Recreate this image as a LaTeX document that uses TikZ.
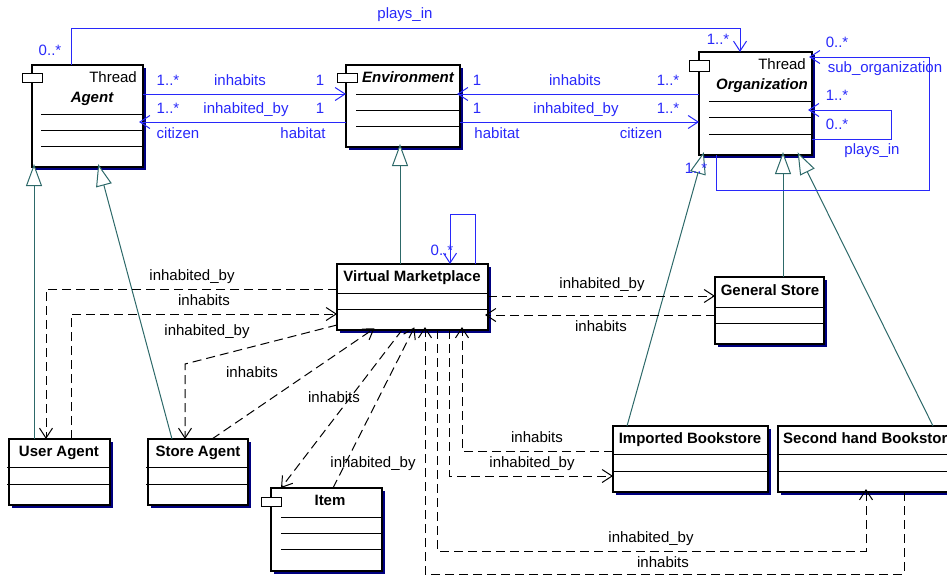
\documentclass[tikz,border=0pt]{standalone}
\usepackage{fontspec}
\setmainfont{Liberation Sans}
\usetikzlibrary{arrows.meta,shadows}

\definecolor{assocblue}{RGB}{40,40,250}
\definecolor{genteal}{RGB}{45,105,105}
\definecolor{shadownavy}{RGB}{0,0,128}

\tikzset{
  cls/.style={draw=black, fill=white, line width=1.1pt, anchor=north west,
    inner sep=0pt, outer sep=0pt,
    general shadow={fill=shadownavy, shadow xshift=3pt, shadow yshift=-3pt}},
  tabbox/.style={draw=black, fill=white, line width=1pt, anchor=north west,
    inner sep=0pt, outer sep=0pt, minimum width=20pt, minimum height=9pt},
  comp/.style={draw=black, line width=0.9pt},
  lbl/.style={anchor=base, inner sep=0pt, font=\fontsize{15}{18}\selectfont},
  alab/.style={lbl, text=assocblue},
  dlab/.style={lbl, text=black},
  ttl/.style={anchor=base, inner sep=0pt, font=\fontsize{15}{18}\selectfont\bfseries},
  ttli/.style={anchor=base, inner sep=0pt, font=\fontsize{15}{18}\selectfont\bfseries\itshape},
  stereo/.style={anchor=base east, inner sep=0pt, font=\fontsize{15}{18}\selectfont},
  assoc/.style={draw=assocblue, line width=1pt,
    -{Straight Barb[length=10pt,width=13pt,line width=1pt]}},
  assocline/.style={draw=assocblue, line width=1pt},
  depend/.style={draw=black, line width=1pt, dash pattern=on 9pt off 5pt,
    -{Straight Barb[length=10pt,width=13pt,line width=1pt]}},
  gen/.style={draw=genteal, line width=1pt, shorten >=-3pt,
    -{Triangle[length=22pt,width=16pt,fill=white,line width=1pt]}},
}

\begin{document}
\begin{tikzpicture}[x=1pt,y=-1pt]
\useasboundingbox (0,0) rectangle (947,576);
\clip (0,0) rectangle (947,576);

% ---------- classes ----------
% Agent
\node[cls, minimum width=111pt, minimum height=102pt] (agent) at (32,65) {};
\node[tabbox] (agenttab) at (22,73) {};
\node[stereo] (agentst) at (137,82) {Thread};
\node[ttli] (agentname) at (92,102) {Agent};
\draw[comp] (41,114) -- (143,114);
\draw[comp] (41,130) -- (143,130);
\draw[comp] (41,146) -- (143,146);

% Environment
\node[cls, minimum width=114pt, minimum height=82pt] (env) at (346,65) {};
\node[tabbox] (envtab) at (337,73) {};
\node[ttli] (envname) at (408,82) {Environment};
\draw[comp] (356,94) -- (460,94);
\draw[comp] (356,110) -- (460,110);
\draw[comp] (356,126) -- (460,126);

% Organization
\node[cls, minimum width=113pt, minimum height=103pt] (org) at (699,52) {};
\node[tabbox, minimum height=11pt] (orgtab) at (689,60) {};
\node[stereo] (orgst) at (806,69) {Thread};
\node[ttli] (orgname) at (762,89) {Organization};
\draw[comp] (709,101) -- (812,101);
\draw[comp] (709,117) -- (812,117);
\draw[comp] (709,134) -- (812,134);

% Virtual Marketplace
\node[cls, minimum width=151pt, minimum height=66pt] (vm) at (337,264) {};
\node[ttl] (vmname) at (412,281) {Virtual Marketplace};
\draw[comp] (337,293) -- (488,293);
\draw[comp] (337,309) -- (488,309);

% General Store
\node[cls, minimum width=109pt, minimum height=67pt] (gs) at (715,277) {};
\node[ttl] (gsname) at (770,295) {General Store};
\draw[comp] (715,307) -- (824,307);
\draw[comp] (715,323) -- (824,323);

% User Agent
\node[cls, minimum width=101pt, minimum height=66pt] (ua) at (9,439) {};
\node[ttl] (uaname) at (59,456) {User Agent};
\draw[comp] (7,467) -- (110,467);
\draw[comp] (7,484) -- (110,484);

% Store Agent
\node[cls, minimum width=100pt, minimum height=66pt] (sa) at (148,439) {};
\node[ttl] (saname) at (198,456) {Store Agent};
\draw[comp] (146,467) -- (248,467);
\draw[comp] (146,484) -- (248,484);

% Item
\node[cls, minimum width=111pt, minimum height=83pt] (item) at (271,488) {};
\node[tabbox] (itemtab) at (261,497) {};
\node[ttl] (itemname) at (330,505) {Item};
\draw[comp] (281,517) -- (382,517);
\draw[comp] (281,533) -- (382,533);
\draw[comp] (281,549) -- (382,549);

% Imported Bookstore
\node[cls, minimum width=155pt, minimum height=66pt] (ib) at (613,426) {};
\node[ttl] (ibname) at (690,443) {Imported Bookstore};
\draw[comp] (613,454) -- (768,454);
\draw[comp] (613,471) -- (768,471);

% Second hand Bookstore
\node[cls, minimum width=190pt, minimum height=66pt] (sb) at (778,426) {};
\node[ttl, anchor=base west] (sbname) at (783,443) {Second hand Bookstore};
\draw[comp] (778,454) -- (968,454);
\draw[comp] (778,471) -- (968,471);

% ---------- generalizations ----------
\draw[gen] (ua.north -| 34,0) -- (agent.south -| 34,0);
\draw[gen] (sa.north -| 172,0) -- (agent.south -| 99,0);
\draw[gen] (vm.north -| 400,0) -- (env.south -| 400,0);
\draw[gen] (gs.north -| 783,0) -- (org.south -| 783,0);
\draw[gen] (ib.north -| 627,0) -- (org.south -| 703,0);
\draw[gen] (sb.north -| 933,0) -- (org.south -| 799,0);

% ---------- associations ----------
\draw[assoc] (agent.east |- 0,94) -- (env.west |- 0,94);
\draw[assoc, shorten >=-4pt] (env.west |- 0,122) -- (agent.east |- 0,122);
\draw[assoc, shorten >=-3pt] (org.west |- 0,94) -- (env.east |- 0,94);
\draw[assoc] (env.east |- 0,122) -- (org.west |- 0,122);
\draw[assoc] (agent.north -| 71,0) -- ++(0,-37) -| (org.north -| 740,0);
\draw[assoc, shorten >=-3pt] (org.south -| 716,0) -- ++(0,35) -- ++(213,0)
  |- (org.east |- 0,57);
\draw[assoc, shorten >=-4pt] (org.east |- 0,139) -- ++(79,0) |- (org.east |- 0,110);
\draw[assoc] (vm.north -| 475,0) -- ++(0,-50) -| (vm.north -| 450,0);

\node[alab] (m1) at (50,55) {0..*};
\node[alab] (r1) at (405,18) {plays\_in};
\node[alab] (m2) at (718,44) {1..*};

\node[alab] (m3) at (168,85) {1..*};
\node[alab] (r2) at (240,85) {inhabits};
\node[alab] (m4) at (320,85) {1};
\node[alab] (m5) at (168,113) {1..*};
\node[alab] (r3) at (246,113) {inhabited\_by};
\node[alab] (m6) at (320,113) {1};
\node[alab] (ro1) at (178,138) {citizen};
\node[alab] (ro2) at (303,138) {habitat};

\node[alab] (m7) at (477,85) {1};
\node[alab] (r4) at (575,85) {inhabits};
\node[alab] (m8) at (668,85) {1..*};
\node[alab] (m9) at (477,113) {1};
\node[alab] (r5) at (576,113) {inhabited\_by};
\node[alab] (m10) at (668,113) {1..*};
\node[alab] (ro3) at (497,138) {habitat};
\node[alab] (ro4) at (641,138) {citizen};

\node[alab] (m11) at (837,47) {0..*};
\node[alab] (ro5) at (885,72) {sub\_organization};
\node[alab] (m12) at (837,100) {1..*};
\node[alab] (m13) at (837,129) {0..*};
\node[alab] (r6) at (872,154) {plays\_in};
\node[alab] (m14) at (696,173) {1..*};
\node[alab] (m15) at (442,255) {0..*};

% ---------- dependencies ----------
\draw[depend] (vm.west |- 0,289) -| (ua.north -| 46,0);
\draw[depend] (ua.north -| 71,0) |- (vm.west |- 0,314);
\draw[depend] (vm.west |- 0,325) -- (185,364) -- (sa.north -| 185,0);
\draw[depend, shorten >=-3pt] (sa.north -| 212,0) -- (vm.south -| 372,0);
\draw[depend] (vm.south -| 402,0) -- (item.north -| 281,0);
\draw[depend, shorten >=-3pt] (item.north -| 333,0) -- (vm.south -| 413,0);
\draw[depend, shorten >=-3pt] (ib.west |- 0,451) -| (vm.south -| 462,0);
\draw[depend] (vm.south -| 449,0) |- (ib.west |- 0,476);
\draw[depend, shorten >=-3pt] (vm.south -| 437,0) -- (437,551) -| (sb.south -| 866,0);
\draw[depend, shorten >=-3pt] (sb.south -| 904,0) -- (904,574) -| (vm.south -| 425,0);
\draw[depend] (vm.east |- 0,296) -- (gs.west |- 0,296);
\draw[depend, shorten >=-3pt] (gs.west |- 0,315) -- (vm.east |- 0,315);

\node[dlab] (d1) at (192,280) {inhabited\_by};
\node[dlab] (d2) at (204,305) {inhabits};
\node[dlab] (d3) at (207,335) {inhabited\_by};
\node[dlab] (d4) at (252,377) {inhabits};
\node[dlab] (d5) at (334,402) {inhabits};
\node[dlab] (d6) at (373,467) {inhabited\_by};
\node[dlab] (d7) at (537,442) {inhabits};
\node[dlab] (d8) at (532,467) {inhabited\_by};
\node[dlab] (d9) at (651,542) {inhabited\_by};
\node[dlab] (d10) at (663,567) {inhabits};
\node[dlab] (d11) at (602,288) {inhabited\_by};
\node[dlab] (d12) at (601,331) {inhabits};
\end{tikzpicture}
\end{document}
